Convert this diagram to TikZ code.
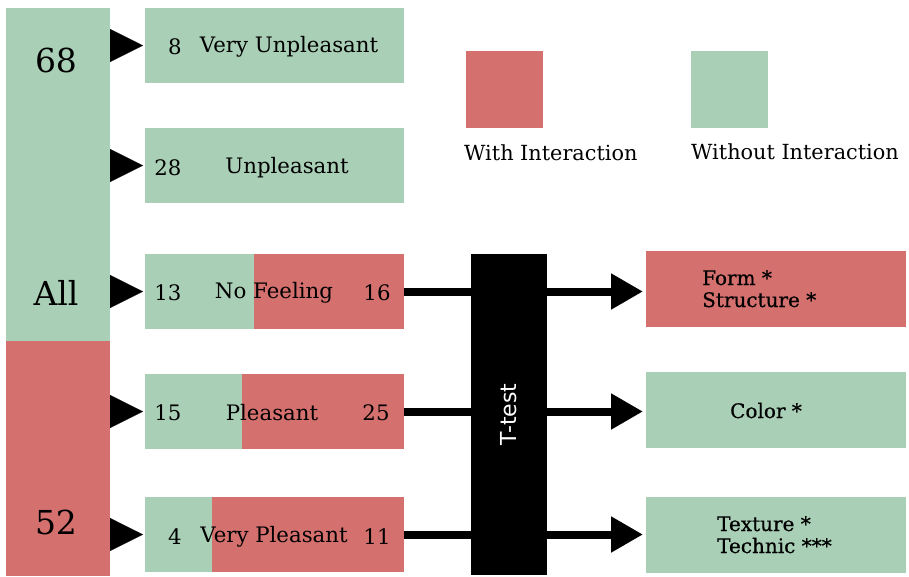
\documentclass[tikz,border=0pt]{standalone}
\usepackage{fontspec}
\setmainfont{DejaVu Serif}
\setsansfont{DejaVu Sans}
\newfontfamily\resfont{DejaVu Serif}[FakeBold=0.6]
\usetikzlibrary{arrows.meta}
\definecolor{gr}{RGB}{169,208,182}
\definecolor{rd}{RGB}{212,112,110}
\begin{document}
\begin{tikzpicture}[x=1pt,y=-1pt,
  box/.style={inner sep=0pt, outer sep=0pt, minimum width=259pt, minimum height=75pt},
  res/.style={inner sep=0pt, outer sep=0pt, minimum width=260pt, minimum height=76pt},
  sq/.style={inner sep=0pt, outer sep=0pt, minimum width=77pt, minimum height=77pt},
  txt/.style={inner sep=0pt, font=\fontsize{21.3}{23}\selectfont},
  legtxt/.style={inner sep=0pt, font=\fontsize{20.8}{23}\selectfont},
  big/.style={inner sep=0pt, font=\fontsize{33}{35}\selectfont},
  restxt/.style={inner sep=0pt, font=\resfont\fontsize{20}{22}\selectfont},
  tri/.style={line width=0.1pt, -{Triangle[length=33pt,width=33pt]}, shorten >=2pt},
  shaft/.style={line width=8pt},
  bigarrow/.style={line width=8pt, -{Triangle[length=32pt,width=34pt]}, shorten >=3pt}
]
\useasboundingbox (0,0) rectangle (909,576);
% left column
\node[fill=gr, inner sep=0pt, outer sep=0pt, minimum width=104pt, minimum height=333pt] (colg) at (58,174.5) {};
\node[fill=rd, inner sep=0pt, outer sep=0pt, minimum width=104pt, minimum height=235pt] (colr) at (58,458.5) {};
\node[big] (n68) at (56,60) {68};
\node[big] (nall) at (56,293) {All};
\node[big] (n52) at (56,522) {52};
% rows
\node[box, fill=gr] (r1) at (274.5,45.5) {};
\node[box, fill=gr] (r2) at (274.5,165.5) {};
\node[box, fill=rd] (r3) at (274.5,291.5) {};
\node[box, fill=rd] (r4) at (274.5,411.5) {};
\node[box, fill=rd] (r5) at (274.5,534.5) {};
\fill[gr] (r3.north west) rectangle (254,329);
\fill[gr] (r4.north west) rectangle (242,449);
\fill[gr] (r5.north west) rectangle (212,572);
% row texts
\node[txt] (t1a) at (175,47) {8};
\node[txt] (t1b) at (289,47) {Very Unpleasant};
\node[txt] (t2a) at (168,168) {28};
\node[txt] (t2b) at (287,168) {Unpleasant};
\node[txt] (t3a) at (168,293) {13};
\node[txt] (t3b) at (274,293) {No Feeling};
\node[txt] (t3c) at (377,293) {16};
\node[txt] (t4a) at (168,413) {15};
\node[txt] (t4b) at (272,413) {Pleasant};
\node[txt] (t4c) at (376,413) {25};
\node[txt] (t5a) at (175,537) {4};
\node[txt] (t5b) at (274,537) {Very Pleasant};
\node[txt] (t5c) at (377,537) {11};
% triangles
\draw[tri] (r1.west -| colg.east) -- (r1.west);
\draw[tri] (r2.west -| colg.east) -- (r2.west);
\draw[tri] (r3.west -| colg.east) -- (r3.west);
\draw[tri] (r4.west -| colr.east) -- (r4.west);
\draw[tri] (r5.west -| colr.east) -- (r5.west);
% T-test
\node[fill=black, inner sep=0pt, outer sep=0pt, minimum width=76pt, minimum height=321pt] (tt) at (509,414.5) {};
\node[text=white, rotate=90, font=\sffamily\fontsize{22}{24}\selectfont, inner sep=0pt] (ttl) at (tt.center) {T-test};
% results
\node[res, fill=rd] (f1) at (776,289) {};
\node[res, fill=gr] (f2) at (776,409.5) {};
\node[res, fill=gr] (f3) at (776,534.5) {};
\node[restxt, anchor=base west] (f1a) at (702,285) {Form *};
\node[restxt, anchor=base west] (f1b) at (702,307) {Structure *};
\node[restxt, anchor=base] (f2t) at (766,418) {Color *};
\node[restxt, anchor=base west] (f3a) at (717,531) {Texture *};
\node[restxt, anchor=base west] (f3b) at (717,553) {Technic ***};
% arrows
\draw[shaft] (r3.east) -- (r3.east -| tt.west);
\draw[shaft] (r4.east) -- (r4.east -| tt.west);
\draw[shaft] (r5.east) -- (r5.east -| tt.west);
\draw[bigarrow] (r3.east -| tt.east) -- (r3.east -| f1.west);
\draw[bigarrow] (r4.east -| tt.east) -- (r4.east -| f2.west);
\draw[bigarrow] (r5.east -| tt.east) -- (r5.east -| f3.west);
% legend
\node[sq, fill=rd] (lr) at (504.5,89.5) {};
\node[sq, fill=gr] (lg) at (729.5,89.5) {};
\node[legtxt, anchor=west] (lrt) at (464,153) {With Interaction};
\node[legtxt, anchor=west] (lgt) at (691,152) {Without Interaction};
\end{tikzpicture}
\end{document}
